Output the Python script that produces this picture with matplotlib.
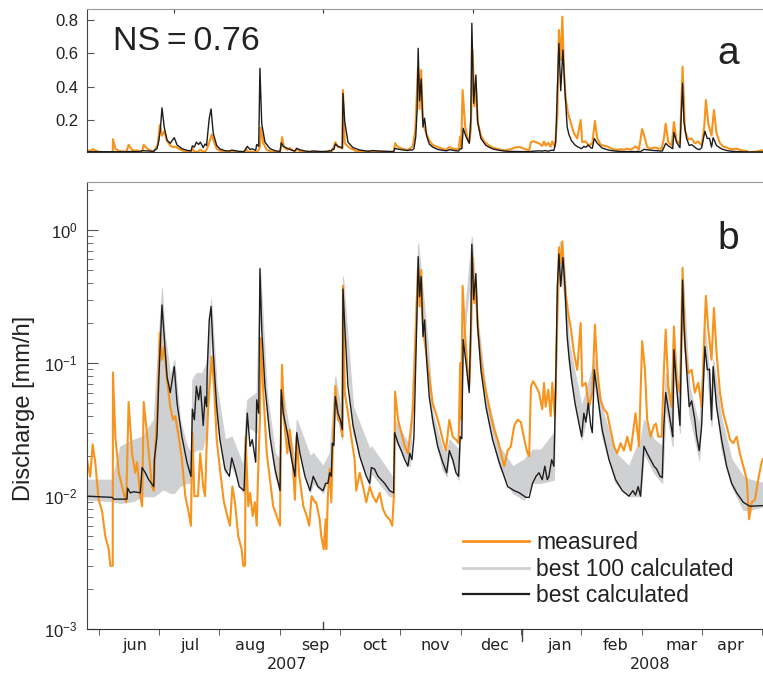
import matplotlib
matplotlib.use("Agg")
import matplotlib.pyplot as plt
from matplotlib.lines import Line2D
import matplotlib.transforms as mtransforms
from matplotlib.ticker import LogLocator, NullFormatter, FixedLocator

plt.rcParams['font.family'] = ['Liberation Sans', 'DejaVu Sans']
plt.rcParams['mathtext.fontset'] = 'custom'
plt.rcParams['mathtext.rm'] = 'Liberation Sans'
plt.rcParams['mathtext.it'] = 'Liberation Sans:italic'
plt.rcParams['mathtext.bf'] = 'Liberation Sans:bold'

# ---------------- data (x = days since 30 May 2007, q = discharge mm/h) -------------
meas_day = [0, 1.6, 2.8, 4.1, 5.8, 7.5, 9.1, 10.8, 11.6, 12.8,
            12.9, 14.1, 15.8, 18.2, 19.5, 20.7, 22.4, 24.0, 24.9, 26.5,
            27.4, 28.2, 29.8, 32.3, 33.2, 34.0, 35.2, 36.2, 37.3, 38.4,
            39.8, 41.4, 42.8, 43.9, 45.6, 47.2, 48.9, 50.6, 51.7, 52.4,
            53.4, 55.2, 56.3, 57.8, 58.7, 59.5, 60.3, 62.0, 63.2, 64.5,
            66.1, 68.1, 69.8, 71.1, 72.3, 73.6, 75.2, 76.9, 77.7, 78.6,
            78.9, 80.2, 81.1, 82.4, 83.5, 84.4, 85.2, 86.0, 86.4, 87.7,
            89.4, 91.0, 92.6, 94.3, 96.0, 96.5, 97.0, 98.0, 99.6, 100.9,
            102.3, 103.4, 104.3, 105.6, 107.6, 109.3, 110.5, 111.7, 113.4, 114.0,
            115.7, 116.5, 117.7, 118.7, 119.0, 119.8, 120.7, 121.5, 122.3, 123.5,
            124.8, 126.0, 127.0, 127.3, 128.2, 129.8, 131.4, 133.1, 133.9, 135.6,
            137.3, 138.9, 140.6, 142.2, 143.9, 145.6, 147.2, 148.8, 150.5, 151.8,
            152.7, 153.2, 154.7, 156.3, 158.0, 159.6, 160.8, 162.1, 163.3, 164.6,
            165.4, 166.2, 167.1, 168.7, 170.2, 171.9, 173.5, 175.2, 176.9, 178.5,
            180.2, 181.9, 183.5, 184.8, 185.6, 186.1, 186.8, 188.1, 189.3, 190.1,
            190.9, 191.8, 192.6, 193.4, 194.3, 195.9, 197.6, 199.3, 200.9, 202.5,
            204.2, 205.9, 207.5, 209.2, 210.8, 212.5, 214.2, 215.8, 217.5, 219.1,
            219.9, 220.8, 221.9, 223.3, 224.8, 226.4, 227.3, 228.1, 229.4, 230.6,
            231.4, 232.7, 233.9, 234.7, 235.6, 236.4, 237.2, 238.0, 239.3, 240.5,
            242.2, 243.8, 245.5, 246.3, 248.0, 249.6, 251.3, 252.6, 253.8, 255.4,
            257.1, 258.7, 260.4, 262.1, 263.7, 265.4, 267.0, 268.7, 270.4, 272.0,
            272.8, 274.5, 276.1, 277.5, 278.6, 280.3, 282.0, 283.0, 284.1, 285.8,
            286.9, 287.8, 289.1, 290.8, 291.9, 293.2, 294.9, 296.2, 297.4, 299.0,
            300.7, 302.3, 304.0, 305.7, 307.0, 307.8, 309.0, 310.6, 311.8, 313.1,
            314.8, 316.4, 318.1, 319.8, 321.4, 323.1, 324.7, 326.4, 328.1, 329.3,
            330.6, 332.2, 333.8, 335.5, 336.2]
meas_q = [0.0188, 0.014, 0.0245, 0.018, 0.0094, 0.0077, 0.005, 0.004, 0.003, 0.003,
          0.085, 0.028, 0.015, 0.0106, 0.009, 0.051, 0.021, 0.015, 0.018, 0.010,
          0.0084, 0.051, 0.030, 0.0118, 0.011, 0.0237, 0.053, 0.17, 0.106, 0.133,
          0.075, 0.047, 0.0375, 0.040, 0.028, 0.0188, 0.010, 0.0075, 0.006, 0.030,
          0.010, 0.010, 0.021, 0.0118, 0.010, 0.0237, 0.047, 0.112, 0.067, 0.0266,
          0.016, 0.009, 0.0071, 0.006, 0.0118, 0.009, 0.005, 0.004, 0.003, 0.003,
          0.0277, 0.0084, 0.0106, 0.0071, 0.009, 0.006, 0.0168, 0.0375, 0.154, 0.06,
          0.021, 0.0133, 0.0084, 0.0071, 0.006, 0.0375, 0.097, 0.0375, 0.021, 0.0316,
          0.018, 0.0094, 0.028, 0.0141, 0.0084, 0.0071, 0.006, 0.010, 0.009, 0.009,
          0.0067, 0.005, 0.004, 0.0067, 0.004, 0.010, 0.016, 0.009, 0.0237, 0.067,
          0.0375, 0.036, 0.028, 0.38, 0.06, 0.042, 0.028, 0.0188, 0.011, 0.015,
          0.0118, 0.009, 0.0118, 0.010, 0.009, 0.0106, 0.008, 0.0071, 0.0067, 0.006,
          0.0106, 0.061, 0.0375, 0.030, 0.0237, 0.021, 0.030, 0.045, 0.141, 0.52,
          0.266, 0.50, 0.178, 0.12, 0.079, 0.05, 0.042, 0.034, 0.0266, 0.022,
          0.0375, 0.028, 0.0266, 0.025, 0.10, 0.0375, 0.38, 0.158, 0.089, 0.067,
          0.141, 0.62, 0.282, 0.42, 0.188, 0.106, 0.071, 0.053, 0.04, 0.0316,
          0.0266, 0.021, 0.0168, 0.022, 0.0237, 0.034, 0.0375, 0.036, 0.0266, 0.021,
          0.020, 0.067, 0.073, 0.067, 0.06, 0.045, 0.071, 0.047, 0.063, 0.040,
          0.071, 0.040, 0.211, 0.74, 0.56, 0.82, 0.50, 0.335, 0.237, 0.188,
          0.119, 0.089, 0.20, 0.067, 0.071, 0.047, 0.06, 0.194, 0.089, 0.053,
          0.045, 0.042, 0.0316, 0.0237, 0.021, 0.025, 0.022, 0.028, 0.022, 0.034,
          0.042, 0.0237, 0.146, 0.089, 0.0375, 0.028, 0.034, 0.035, 0.028, 0.028,
          0.089, 0.178, 0.067, 0.047, 0.188, 0.075, 0.06, 0.52, 0.133, 0.084,
          0.089, 0.06, 0.071, 0.047, 0.163, 0.32, 0.178, 0.106, 0.26, 0.119,
          0.06, 0.042, 0.034, 0.0266, 0.025, 0.028, 0.021, 0.0168, 0.0133, 0.0067,
          0.009, 0.0094, 0.0133, 0.018, 0.019]

best_day = [0, 12.4, 13.4, 19.9, 20.2, 21.5, 23.2, 26.5, 27.4, 29.0,
            30.7, 33.2, 33.5, 34.8, 35.7, 36.4, 37.3, 38.4, 39.8, 41.4,
            43.4, 44.8, 47.2, 49.7, 51.7, 52.4, 53.4, 54.4, 55.5, 56.4,
            57.8, 58.7, 59.5, 59.8, 60.8, 61.7, 62.8, 64.5, 66.1, 68.6,
            70.8, 72.0, 73.6, 75.7, 78.1, 78.9, 79.7, 81.1, 82.2, 83.9,
            84.4, 85.4, 86.0, 86.9, 88.5, 91.0, 93.5, 96.0, 96.6, 97.6,
            99.6, 101.8, 103.4, 104.3, 105.9, 108.4, 110.9, 112.5, 114.9, 117.4,
            118.7, 119.8, 120.7, 121.5, 122.0, 122.8, 123.5, 124.8, 126.0, 127.0,
            127.3, 128.2, 129.8, 132.3, 135.6, 138.9, 140.6, 141.4, 143.0, 144.7,
            148.0, 150.5, 152.5, 153.0, 154.7, 156.3, 158.0, 159.6, 160.5, 161.6,
            162.6, 163.5, 164.2, 164.7, 165.4, 166.2, 167.1, 167.9, 168.9, 170.2,
            171.9, 174.4, 176.9, 178.9, 180.2, 181.9, 183.5, 184.8, 185.6, 186.4,
            187.1, 188.5, 190.1, 190.9, 191.4, 192.3, 193.4, 194.3, 195.9, 198.4,
            201.7, 205.0, 209.2, 212.5, 215.0, 218.3, 219.9, 221.6, 223.3, 224.8,
            226.4, 227.7, 228.9, 229.7, 231.1, 232.2, 233.1, 233.9, 234.7, 235.6,
            236.7, 237.7, 238.8, 239.7, 241.0, 242.7, 244.3, 246.0, 247.1, 248.1,
            249.3, 250.5, 251.3, 252.3, 253.8, 256.2, 259.6, 262.9, 266.2, 269.5,
            271.5, 272.8, 274.1, 275.3, 277.0, 278.6, 280.3, 282.0, 283.3, 285.0,
            286.1, 286.9, 287.8, 289.1, 290.8, 291.3, 291.9, 293.2, 294.9, 296.2,
            296.9, 298.2, 299.5, 300.7, 302.3, 303.2, 304.5, 305.7, 307.3, 308.5,
            309.6, 310.6, 311.4, 313.1, 315.6, 318.1, 320.6, 323.1, 326.4, 329.7,
            336.2]
best_q = [0.010, 0.0098, 0.0095, 0.0095, 0.0115, 0.0106, 0.0108, 0.0106, 0.0164, 0.015,
          0.0133, 0.0118, 0.0188, 0.028, 0.075, 0.133, 0.273, 0.158, 0.079, 0.06,
          0.094, 0.05, 0.028, 0.018, 0.0141, 0.045, 0.0375, 0.067, 0.053, 0.067,
          0.034, 0.056, 0.047, 0.089, 0.211, 0.266, 0.119, 0.047, 0.0266, 0.016,
          0.0141, 0.0194, 0.016, 0.0118, 0.011, 0.0237, 0.042, 0.0237, 0.0266, 0.018,
          0.053, 0.042, 0.51, 0.178, 0.067, 0.028, 0.016, 0.011, 0.063, 0.042,
          0.030, 0.0188, 0.0141, 0.030, 0.021, 0.0141, 0.011, 0.0141, 0.0118, 0.011,
          0.0125, 0.0125, 0.015, 0.0141, 0.025, 0.024, 0.056, 0.042, 0.0375, 0.0316,
          0.36, 0.188, 0.067, 0.034, 0.020, 0.0141, 0.0125, 0.0164, 0.016, 0.0141,
          0.0125, 0.011, 0.0106, 0.030, 0.025, 0.022, 0.0188, 0.0168, 0.021, 0.0188,
          0.028, 0.10, 0.266, 0.63, 0.316, 0.446, 0.158, 0.211, 0.106, 0.056,
          0.0375, 0.0237, 0.018, 0.015, 0.022, 0.0188, 0.015, 0.0141, 0.028, 0.027,
          0.15, 0.10, 0.06, 0.211, 0.78, 0.30, 0.47, 0.188, 0.089, 0.047,
          0.0266, 0.018, 0.0118, 0.011, 0.0106, 0.0098, 0.0098, 0.0125, 0.0141, 0.015,
          0.0133, 0.0168, 0.0133, 0.014, 0.0188, 0.0168, 0.067, 0.376, 0.66, 0.376,
          0.62, 0.376, 0.158, 0.112, 0.075, 0.05, 0.0375, 0.028, 0.042, 0.036,
          0.05, 0.034, 0.030, 0.089, 0.06, 0.0316, 0.0188, 0.0133, 0.011, 0.010,
          0.011, 0.0102, 0.0118, 0.010, 0.0237, 0.021, 0.0188, 0.0168, 0.016, 0.0141,
          0.0138, 0.034, 0.06, 0.045, 0.0316, 0.028, 0.126, 0.067, 0.034, 0.42,
          0.188, 0.089, 0.047, 0.052, 0.0375, 0.028, 0.022, 0.034, 0.133, 0.089,
          0.09, 0.0375, 0.094, 0.047, 0.0266, 0.0168, 0.0125, 0.0106, 0.009, 0.0084,
          0.0085]

band_day = [0, 12.4, 16.6, 23.2, 27.4, 33.2, 35.7, 37.3, 38.4, 41.4,
            43.4, 46.2, 49.7, 51.7, 52.4, 54.4, 57.2, 59.5, 61.7, 64.5,
            68.6, 72.0, 77.7, 78.9, 79.7, 84.4, 86.0, 89.4, 93.5, 96.0,
            96.6, 99.6, 103.4, 104.3, 110.9, 112.5, 117.4, 120.7, 123.5, 127.0,
            127.3, 132.3, 140.6, 141.4, 150.5, 152.5, 153.0, 160.5, 164.7, 169.6,
            171.9, 176.9, 178.9, 180.2, 184.8, 185.6, 187.1, 191.4, 194.3, 198.4,
            205.0, 211.7, 217.3, 221.6, 225.8, 232.2, 233.9, 235.1, 237.2, 239.7,
            246.0, 249.3, 252.3, 256.2, 262.9, 269.5, 272.8, 275.3, 277.0, 282.0,
            286.1, 287.8, 291.3, 291.9, 294.9, 296.2, 299.5, 304.5, 307.3, 310.6,
            311.4, 315.6, 320.6, 326.4, 329.7, 336.2]
band_hi = [0.0133, 0.0133, 0.0237, 0.0266, 0.028, 0.0376, 0.158, 0.365, 0.178, 0.079,
           0.106, 0.0376, 0.0237, 0.0211, 0.075, 0.084, 0.084, 0.10, 0.30, 0.067,
           0.0266, 0.028, 0.0168, 0.0376, 0.053, 0.06, 0.53, 0.06, 0.0211, 0.0188,
           0.075, 0.0376, 0.0188, 0.0376, 0.020, 0.0211, 0.0168, 0.0211, 0.079, 0.0376,
           0.447, 0.047, 0.0224, 0.0237, 0.015, 0.0133, 0.0376, 0.0237, 0.79, 0.133,
           0.042, 0.0224, 0.0211, 0.0266, 0.0224, 0.0335, 0.168, 0.89, 0.211, 0.06,
           0.0237, 0.0168, 0.0188, 0.0224, 0.0224, 0.030, 0.42, 0.82, 0.596, 0.141,
           0.047, 0.071, 0.106, 0.045, 0.0211, 0.0168, 0.0224, 0.0266, 0.0376, 0.0266,
           0.0237, 0.084, 0.042, 0.158, 0.047, 0.47, 0.067, 0.0335, 0.188, 0.053,
           0.106, 0.0376, 0.0188, 0.0141, 0.0133, 0.0126]
band_lo = [0.0094, 0.0092, 0.0089, 0.0092, 0.010, 0.010, 0.0106, 0.0112, 0.0112, 0.0106,
           0.0106, 0.0119, 0.0126, 0.0126, 0.0211, 0.0224, 0.0224, 0.030, 0.178, 0.0376,
           0.015, 0.0168, 0.0106, 0.0211, 0.0335, 0.030, 0.376, 0.042, 0.0141, 0.0112,
           0.047, 0.0266, 0.0133, 0.0266, 0.0106, 0.0126, 0.0106, 0.0141, 0.047, 0.0266,
           0.28, 0.030, 0.0119, 0.015, 0.010, 0.010, 0.0266, 0.0168, 0.376, 0.084,
           0.0335, 0.0158, 0.0141, 0.0211, 0.0133, 0.0266, 0.133, 0.596, 0.168, 0.045,
           0.0168, 0.0106, 0.0094, 0.0126, 0.0126, 0.0133, 0.266, 0.50, 0.335, 0.094,
           0.0266, 0.045, 0.075, 0.028, 0.0126, 0.010, 0.010, 0.010, 0.0211, 0.015,
           0.0126, 0.047, 0.0237, 0.106, 0.030, 0.335, 0.042, 0.0188, 0.133, 0.0335,
           0.079, 0.0224, 0.0119, 0.0079, 0.0079, 0.0084]

month_labels = ['jun', 'jul', 'aug', 'sep', 'oct', 'nov', 'dec', 'jan', 'feb', 'mar', 'apr']
month_label_day = [23.9, 51.2, 81.1, 113.4, 143.2, 173.0, 202.9, 235.2, 262.6, 295.9, 319.8]
month_tick_day = [5.8, 35.8, 65.8, 95.8, 125.8, 155.8, 185.8, 215.8, 245.8, 275.8, 305.8, 335.8]
year_labels = ['2007', '2008']
year_label_day = [99.3, 280.3]
top_tick_day = [43.3, 117.4, 192.0]
lin_ticks = [0.2, 0.4, 0.6, 0.8]
lin_tick_labels = ['0.2', '0.4', '0.6', '0.8']

assert len(meas_day) == len(meas_q)
assert len(best_day) == len(best_q)
assert len(band_day) == len(band_hi) == len(band_lo)

ORANGE = '#F7941D'
GREY = '#cfd0d2'
BLACK = '#1e1c1d'
XMAX = 336.2

W, H = 763, 676
fig = plt.figure(figsize=(W / 100, H / 100), dpi=100)
axA = fig.add_axes([87 / W, 1 - 152 / H, 676 / W, (152 - 8.5) / H])
axB = fig.add_axes([87 / W, 1 - 629.3 / H, 676 / W, (629.3 - 182.3) / H])

axB.fill_between(band_day, band_lo, band_hi, color=GREY, lw=0.8, edgecolor=GREY, zorder=1)
for ax in (axA, axB):
    ax.plot(meas_day, meas_q, color=ORANGE, lw=1.5, zorder=2)
    ax.plot(best_day, best_q, color=BLACK, lw=1.0, zorder=3)
    ax.set_xlim(0, XMAX)
    ax.spines['right'].set_visible(False)
    ax.spines['left'].set_color('#444444')
    ax.spines['bottom'].set_color('#333333')
    ax.spines['top'].set_color('#999999')

# ---- panel a ----
axA.set_ylim(0.008, 0.869)
axA.set_yticks(lin_ticks)
axA.set_yticklabels(lin_tick_labels)
axA.tick_params(axis='y', direction='in', length=5, labelsize=12, pad=6, color='#555555',
                labelcolor='#222222')
axA.set_xticks(top_tick_day)
axA.tick_params(axis='x', bottom=False, top=True, direction='in', length=3,
                labelbottom=False, color='#333333')
axA.text(0.039, 0.71, 'NS\u2009=\u20090.76', transform=axA.transAxes, fontsize=24.5,
         color='#222222', va='baseline', ha='left')
axA.text(0.948, 0.61, 'a', transform=axA.transAxes, fontsize=28, color='#222222',
         va='baseline', ha='center')

# ---- panel b ----
axB.set_yscale('log')
axB.set_ylim(1e-3, 2.28)
axB.yaxis.set_major_locator(LogLocator(base=10, numticks=10))
axB.yaxis.set_minor_locator(LogLocator(base=10, subs=(2, 3, 4, 5, 6, 7, 8, 9), numticks=20))
axB.yaxis.set_minor_formatter(NullFormatter())
axB.tick_params(axis='y', which='major', direction='in', length=8, labelsize=12, pad=7,
                color='#555555', labelcolor='#222222')
axB.tick_params(axis='y', which='minor', direction='in', length=4, color='#555555')

axB.xaxis.set_major_locator(FixedLocator(month_label_day))
axB.set_xticklabels(month_labels)
axB.xaxis.set_minor_locator(FixedLocator(month_tick_day))
axB.tick_params(axis='x', which='major', length=0, pad=6, labelsize=11.5, labelcolor='#222222')
axB.tick_params(axis='x', which='minor', direction='out', length=4, color='#444444')
for lbl in axB.get_xticklabels():
    lbl.set_fontfamily('DejaVu Sans')

trans = mtransforms.blended_transform_factory(axB.transData, axB.transAxes)
axB.add_line(Line2D([117.4, 117.4], [0, 0.016], transform=trans, color='#444444',
                    lw=1.0, clip_on=False))
axB.add_line(Line2D([216.2, 216.2], [0, -0.027], transform=trans, color='#444444',
                    lw=1.0, clip_on=False))

for lab, d in zip(year_labels, year_label_day):
    axB.text(d, -0.078, lab, transform=trans, ha='center', va='center', fontsize=11.5,
             family='DejaVu Sans', color='#222222')

axB.text(0.948, 0.85, 'b', transform=axB.transAxes, fontsize=28, color='#222222',
         va='baseline', ha='center')

fig.text(24 / W, 1 - 408 / H, 'Discharge [mm/h]', rotation=90, ha='center', va='center',
         fontsize=17, color='#222222')

handles = [Line2D([], [], color=ORANGE, lw=2.0),
           Line2D([], [], color=GREY, lw=2.0),
           Line2D([], [], color=BLACK, lw=1.6)]
axB.legend(handles, ['measured', 'best 100 calculated', 'best calculated'],
           loc='upper left', bbox_to_anchor=(463 / W, 1 - 531 / H),
           bbox_transform=fig.transFigure, frameon=False, fontsize=16.5,
           handlelength=2.9, handletextpad=0.3, borderpad=0, borderaxespad=0,
           labelspacing=0.16, labelcolor='#222222')

fig.savefig('out.png', dpi=100)
